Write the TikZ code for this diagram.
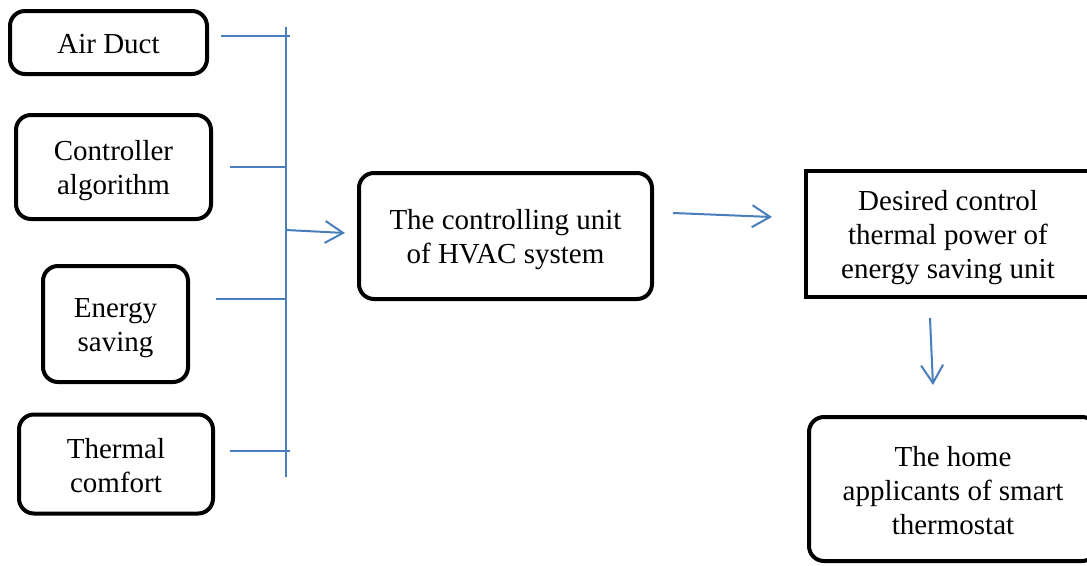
\documentclass[tikz,border=0pt]{standalone}
\usepackage{fontspec}
\setmainfont{Liberation Serif}
\usetikzlibrary{arrows.meta}
\definecolor{lineblue}{HTML}{4A7EBB}
\newcommand\topst{\rule{0pt}{28pt}}
\newcommand\botst{\rule[-6pt]{0pt}{6pt}}
\tikzset{
  rbox/.style={draw=black, line width=4pt, rounded corners=15pt, align=center,
    inner sep=0pt, font=\fontsize{29}{34}\selectfont},
  sbox/.style={draw=black, line width=4pt, align=center, inner sep=0pt,
    font=\fontsize{29}{34}\selectfont},
  bus/.style={draw=lineblue, line width=2pt},
  flow/.style={draw=lineblue, line width=2pt, -{Straight Barb[length=18pt,width=22pt,line width=2pt]}}
}
\begin{document}
\begin{tikzpicture}[x=1pt,y=-1pt]
\useasboundingbox (0,0) rectangle (1087,565);
\clip (0,0) rectangle (1087,565);
\node[rbox, minimum width=197pt, minimum height=63pt] (air) at (108.5,42.5) {\topst Air Duct\botst};
\node[rbox, minimum width=195pt, minimum height=104pt] (ctrl) at (113.5,167) {\topst Controller\\algorithm\botst};
\node[rbox, minimum width=145pt, minimum height=116pt] (energy) at (115.5,324) {\topst Energy\\saving\botst};
\node[rbox, minimum width=194pt, minimum height=99pt] (thermal) at (116,464) {\topst Thermal\\comfort\botst};
\node[rbox, minimum width=293pt, minimum height=126pt] (unit) at (505.5,236) {\topst The controlling unit\\of HVAC system\botst};
\node[sbox, minimum width=285pt, minimum height=126pt] (desired) at (948,234) {\topst Desired control\\thermal power of\\energy saving unit\botst};
\node[rbox, minimum width=288pt, minimum height=144pt] (home) at (953,489) {\topst The home\\applicants of smart\\thermostat\botst};

\coordinate (bt) at (286,27);
\coordinate (bb) at (286,477);
\coordinate (a1) at (221,36);  \coordinate (a2) at (290,36);
\coordinate (c1) at (230,167); \coordinate (c2) at (286,167);
\coordinate (e1) at (216,299); \coordinate (e2) at (286,299);
\coordinate (t1) at (230,451); \coordinate (t2) at (290,451);
\coordinate (o1) at (286,230); \coordinate (o2) at (345,233);
\coordinate (u1) at (673,213); \coordinate (u2) at (772,217);
\coordinate (d1) at (930,318); \coordinate (d2) at (933,385);

\draw[bus] (bt) -- (bb);
\draw[bus] (a1) -- (a2);
\draw[bus] (c1) -- (c2);
\draw[bus] (e1) -- (e2);
\draw[bus] (t1) -- (t2);
\draw[flow] (o1) -- (o2);
\draw[flow] (u1) -- (u2);
\draw[flow] (d1) -- (d2);
\end{tikzpicture}
\end{document}
